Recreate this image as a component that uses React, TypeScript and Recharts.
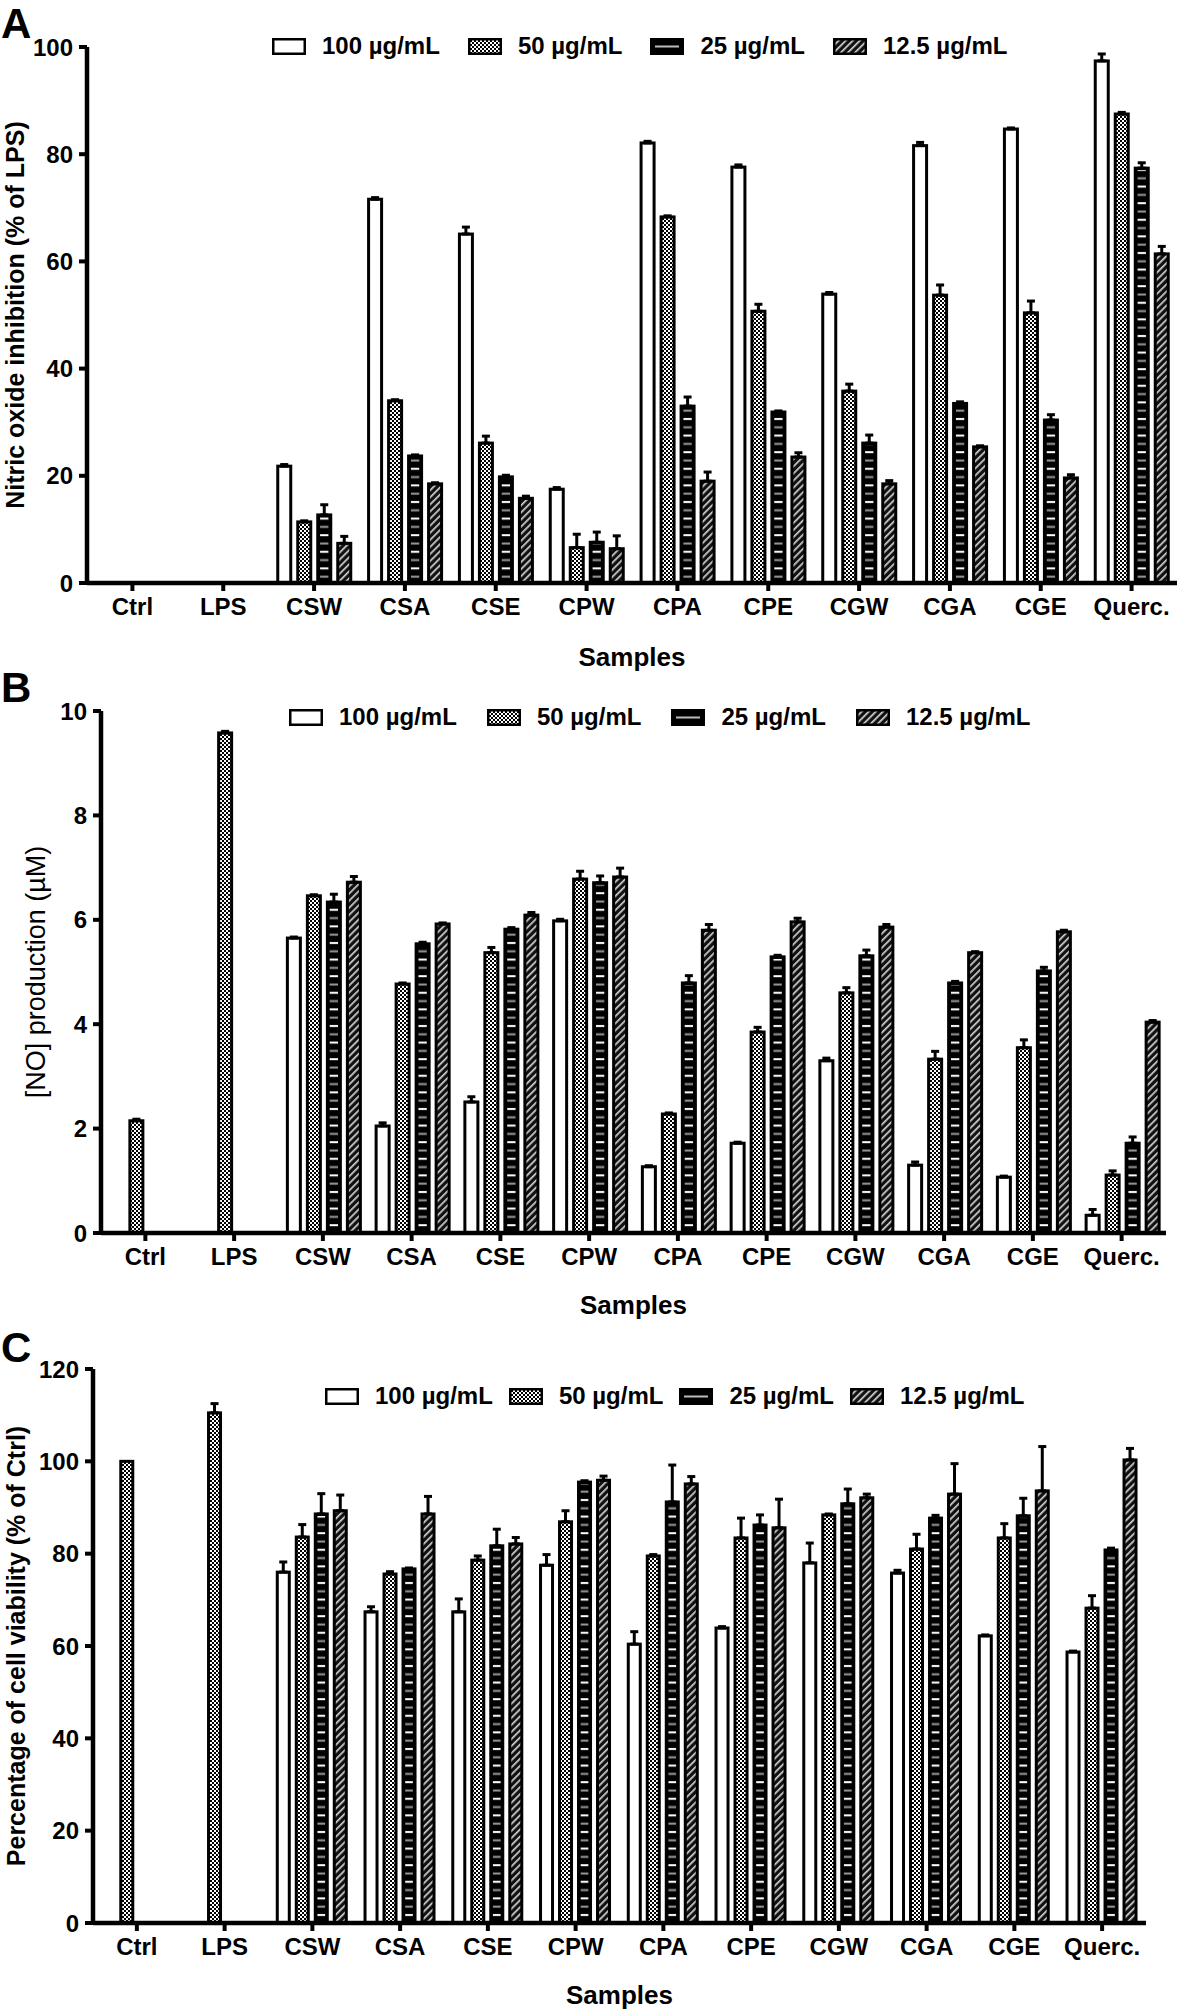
import React from 'react'
import { BarChart, Bar, XAxis, YAxis, ErrorBar, Legend } from 'recharts'

const FONT = '"Liberation Sans", Arial, Helvetica, sans-serif'

const samples = ['Ctrl', 'LPS', 'CSW', 'CSA', 'CSE', 'CPW', 'CPA', 'CPE', 'CGW', 'CGA', 'CGE', 'Querc.']
const doses = ['100 µg/mL', '50 µg/mL', '25 µg/mL', '12.5 µg/mL']

// A - nitric oxide inhibition (% of LPS)
const inhib100 = [null, null, 21.8, 71.6, 65.1, 17.5, 82.1, 77.6, 53.9, 81.6, 84.7, 97.4]
const inhib50 = [null, null, 11.4, 34.0, 26.1, 6.6, 68.3, 50.7, 35.8, 53.7, 50.4, 87.5]
const inhib25 = [null, null, 12.7, 23.7, 19.8, 7.6, 33.0, 31.9, 26.1, 33.5, 30.4, 77.4]
const inhib12 = [null, null, 7.4, 18.5, 15.8, 6.4, 19.0, 23.5, 18.5, 25.4, 19.6, 61.4]
const inhibErr100 = [null, null, 0.3, 0.3, 1.3, 0.3, 0.3, 0.4, 0.3, 0.6, 0.2, 1.3]
const inhibErr50 = [null, null, 0.2, 0.2, 1.3, 2.5, 0.2, 1.3, 1.3, 1.9, 2.2, 0.3]
const inhibErr25 = [null, null, 1.9, 0.2, 0.3, 1.9, 1.7, 0.2, 1.5, 0.3, 1.0, 1.0]
const inhibErr12 = [null, null, 1.3, 0.2, 0.4, 2.4, 1.7, 0.8, 0.6, 0.2, 0.6, 1.4]

// B - [NO] production (uM)
const no100 = [null, null, 5.65, 2.05, 2.51, 5.98, 1.27, 1.72, 3.30, 1.30, 1.07, 0.34]
const no50 = [2.15, 9.58, 6.46, 4.77, 5.37, 6.78, 2.28, 3.85, 4.60, 3.33, 3.55, 1.11]
const no25 = [null, null, 6.34, 5.54, 5.82, 6.71, 4.79, 5.29, 5.31, 4.79, 5.02, 1.72]
const no12 = [null, null, 6.72, 5.92, 6.09, 6.82, 5.80, 5.96, 5.86, 5.37, 5.77, 4.04]
const noErr100 = [null, null, 0.02, 0.06, 0.1, 0.03, 0.02, 0.02, 0.05, 0.06, 0.02, 0.11]
const noErr50 = [0.03, 0.03, 0.02, 0.02, 0.1, 0.15, 0.02, 0.09, 0.1, 0.15, 0.15, 0.08]
const noErr25 = [null, null, 0.15, 0.03, 0.03, 0.13, 0.14, 0.03, 0.11, 0.03, 0.07, 0.12]
const noErr12 = [null, null, 0.11, 0.02, 0.05, 0.17, 0.11, 0.07, 0.05, 0.02, 0.03, 0.03]

// C - cell viability (% of Ctrl)
const via100 = [null, null, 76.0, 67.4, 67.4, 77.5, 60.4, 63.9, 78.0, 75.8, 62.2, 58.7]
const via50 = [100, 110.5, 83.6, 75.6, 78.6, 86.9, 79.5, 83.4, 88.4, 81.0, 83.4, 68.2]
const via25 = [null, null, 88.6, 76.7, 81.7, 95.5, 91.2, 86.2, 90.8, 87.7, 88.2, 80.8]
const via12 = [null, null, 89.3, 88.6, 82.1, 95.9, 95.1, 85.6, 92.1, 92.9, 93.6, 100.3]
const viaErr100 = [null, null, 2.2, 1.1, 2.8, 2.3, 2.7, 0.3, 4.3, 0.6, 0.2, 0.2]
const viaErr50 = [null, 2.0, 2.7, 0.5, 0.9, 2.4, 0.3, 4.3, 0.2, 3.2, 3.1, 2.7]
const viaErr25 = [null, null, 4.4, 0.2, 3.6, 0.3, 8.0, 2.2, 3.2, 0.6, 3.8, 0.4]
const viaErr12 = [null, null, 3.4, 3.8, 1.4, 0.9, 1.6, 6.2, 0.8, 6.6, 9.6, 2.5]

const kinds = ['open', 'check', 'dash', 'hatch']

function buildRows(vals: (number | null)[][], errs: (number | null)[][]) {
  return samples.map((name, i) => {
    const row: any = { name }
    vals.forEach((v, k) => {
      row['v' + k] = v[i]
      row['e' + k] = errs[k][i] == null ? null : [0, errs[k][i]]
    })
    return row
  })
}

function fillFor(kind: string) {
  if (kind === 'open') return '#fff'
  if (kind === 'check') return 'url(#pat-check)'
  if (kind === 'dash') return '#000'
  return 'url(#pat-hatch)'
}

function PatternBar(props: any) {
  const { x, y, width, height, kind } = props
  if (height == null || !(height > 0) || !(width > 0)) return null
  return (
    <g>
      <rect x={x} y={y} width={width} height={height} fill={fillFor(kind)} stroke="#000" strokeWidth={3} />
      {kind === 'dash' && height > 6 && (
        <rect x={x + width * 0.18} y={y + 2} width={width * 0.64} height={height - 4} fill="url(#pat-dash)" />
      )}
    </g>
  )
}

function Swatch({ kind }: { kind: string }) {
  return (
    <svg width={34} height={17} style={{ display: 'block' }}>
      <rect x={1.25} y={1.25} width={31.5} height={14.5} fill={fillFor(kind)} stroke="#000" strokeWidth={2.5} />
      {kind === 'dash' && <rect x={5} y={7.5} width={24} height={2} fill="#bbb" />}
    </svg>
  )
}

function LegendRow({ gap }: { gap: number }) {
  return (
    <div style={{ display: 'flex', alignItems: 'center', fontFamily: FONT, fontWeight: 'bold', fontSize: 24, color: '#000', whiteSpace: 'nowrap' }}>
      {doses.map((d, i) => (
        <div key={d} style={{ display: 'flex', alignItems: 'center', marginRight: gap }}>
          <Swatch kind={kinds[i]} />
          <span style={{ marginLeft: 16 }}>{d}</span>
        </div>
      ))}
    </div>
  )
}

const yTitle = (text: string, x: number, cy: number, bold: boolean, size: number) => () => (
  <text
    x={x}
    y={cy}
    transform={`rotate(-90 ${x} ${cy})`}
    textAnchor="middle"
    dominantBaseline="central"
    fontFamily={FONT}
    fontWeight={bold ? 'bold' : 'normal'}
    fontSize={size}
    fill="#000"
  >
    {text}
  </text>
)

interface PanelProps {
  top: number
  height: number
  rows: any[]
  margin: { top: number; right: number; bottom: number; left: number }
  yWidth: number
  xHeight: number
  domain: [number, number]
  ticks: number[]
  yLabel: string
  yLabelX: number
  yLabelBold: boolean
  yLabelSize: number
  samplesOffset: number
  legendTop: number
  legendLeft: number
  legendGap: number
}

function Panel(p: PanelProps) {
  const tickStyle = { fontSize: 24, fontWeight: 'bold', fill: '#000', fontFamily: FONT }
  const plotH = p.height - p.margin.top - p.margin.bottom - p.xHeight
  const cy = p.margin.top + plotH / 2
  return (
    <div style={{ position: 'absolute', left: 0, top: p.top }}>
      <BarChart width={1181} height={p.height} data={p.rows} margin={p.margin} barCategoryGap="10%" barGap={7}>
        <XAxis
          dataKey="name"
          interval={0}
          height={p.xHeight}
          tick={tickStyle}
          tickSize={8}
          tickMargin={7}
          axisLine={{ stroke: '#000', strokeWidth: 4.5 }}
          tickLine={{ stroke: '#000', strokeWidth: 4 }}
          label={{ value: 'Samples', position: 'insideBottom', offset: p.samplesOffset, fontSize: 26, fontWeight: 'bold', fill: '#000', fontFamily: FONT }}
        />
        <YAxis
          width={p.yWidth}
          domain={p.domain}
          ticks={p.ticks}
          interval={0}
          tick={tickStyle}
          tickSize={8}
          tickMargin={6}
          axisLine={{ stroke: '#000', strokeWidth: 4.5 }}
          tickLine={{ stroke: '#000', strokeWidth: 4 }}
          label={{ content: yTitle(p.yLabel, p.yLabelX, cy, p.yLabelBold, p.yLabelSize) }}
        />
        <Legend
          layout="horizontal"
          verticalAlign="middle"
          align="center"
          wrapperStyle={{ top: p.legendTop, left: p.legendLeft, width: 'auto' }}
          content={() => <LegendRow gap={p.legendGap} />}
        />
        {kinds.map((kind, k) => (
          <Bar
            key={kind}
            dataKey={'v' + k}
            name={doses[k]}
            isAnimationActive={false}
            shape={(sp: any) => <PatternBar {...sp} kind={kind} />}
          >
            <ErrorBar dataKey={'e' + k} width={4} strokeWidth={3} stroke="#000" direction="y" />
          </Bar>
        ))}
      </BarChart>
    </div>
  )
}

export default function App() {
  const rowsA = buildRows([inhib100, inhib50, inhib25, inhib12], [inhibErr100, inhibErr50, inhibErr25, inhibErr12])
  const rowsB = buildRows([no100, no50, no25, no12], [noErr100, noErr50, noErr25, noErr12])
  const rowsC = buildRows([via100, via50, via25, via12], [viaErr100, viaErr50, viaErr25, viaErr12])
  return (
    <div style={{ position: 'absolute', left: 0, top: 0, width: 1181, height: 2010, background: '#fff', overflow: 'hidden' }}>
      <svg width={0} height={0} style={{ position: 'absolute' }}>
        <defs>
          <pattern id="pat-check" width={4} height={4} patternUnits="userSpaceOnUse">
            <rect width={4} height={4} fill="#fff" />
            <rect width={2} height={2} fill="#000" />
            <rect x={2} y={2} width={2} height={2} fill="#000" />
          </pattern>
          <pattern id="pat-dash" width={4} height={16.6} patternUnits="userSpaceOnUse">
            <rect y={3} width={4} height={2} fill="#fff" />
            <rect y={11.3} width={4} height={2} fill="#9a9a9a" />
          </pattern>
          <pattern id="pat-hatch" width={5} height={5} patternUnits="userSpaceOnUse" patternTransform="rotate(45)">
            <rect width={5} height={5} fill="#111" />
            <rect width={1.7} height={5} fill="#d0d0d0" />
          </pattern>
        </defs>
      </svg>
      <Panel
        top={0}
        height={690}
        rows={rowsA}
        margin={{ top: 47, right: 4, bottom: 0, left: 0 }}
        yWidth={87}
        xHeight={107}
        domain={[0, 100]}
        ticks={[0, 20, 40, 60, 80, 100]}
        yLabel="Nitric oxide inhibition (% of LPS)"
        yLabelX={15}
        yLabelBold
        yLabelSize={25}
        samplesOffset={24}
        legendTop={32}
        legendLeft={272}
        legendGap={28}
      />
      <Panel
        top={690}
        height={640}
        rows={rowsB}
        margin={{ top: 21, right: 15, bottom: 0, left: 0 }}
        yWidth={101}
        xHeight={97}
        domain={[0, 10]}
        ticks={[0, 2, 4, 6, 8, 10]}
        yLabel="[NO] production (µM)"
        yLabelX={36}
        yLabelBold={false}
        yLabelSize={27}
        samplesOffset={16}
        legendTop={13}
        legendLeft={289}
        legendGap={30}
      />
      <Panel
        top={1330}
        height={680}
        rows={rowsC}
        margin={{ top: 39, right: 35, bottom: 0, left: 0 }}
        yWidth={93}
        xHeight={87}
        domain={[0, 120]}
        ticks={[0, 20, 40, 60, 80, 100, 120]}
        yLabel="Percentage of cell viability (% of Ctrl)"
        yLabelX={16}
        yLabelBold
        yLabelSize={25}
        samplesOffset={6}
        legendTop={52}
        legendLeft={325}
        legendGap={16}
      />
      <svg width={1181} height={2010} style={{ position: 'absolute', left: 0, top: 0, pointerEvents: 'none' }}>
        <text x={1} y={38} fontFamily={FONT} fontWeight="bold" fontSize={42} fill="#000">A</text>
        <text x={1} y={702} fontFamily={FONT} fontWeight="bold" fontSize={42} fill="#000">B</text>
        <text x={1} y={1362} fontFamily={FONT} fontWeight="bold" fontSize={42} fill="#000">C</text>
      </svg>
    </div>
  )
}
